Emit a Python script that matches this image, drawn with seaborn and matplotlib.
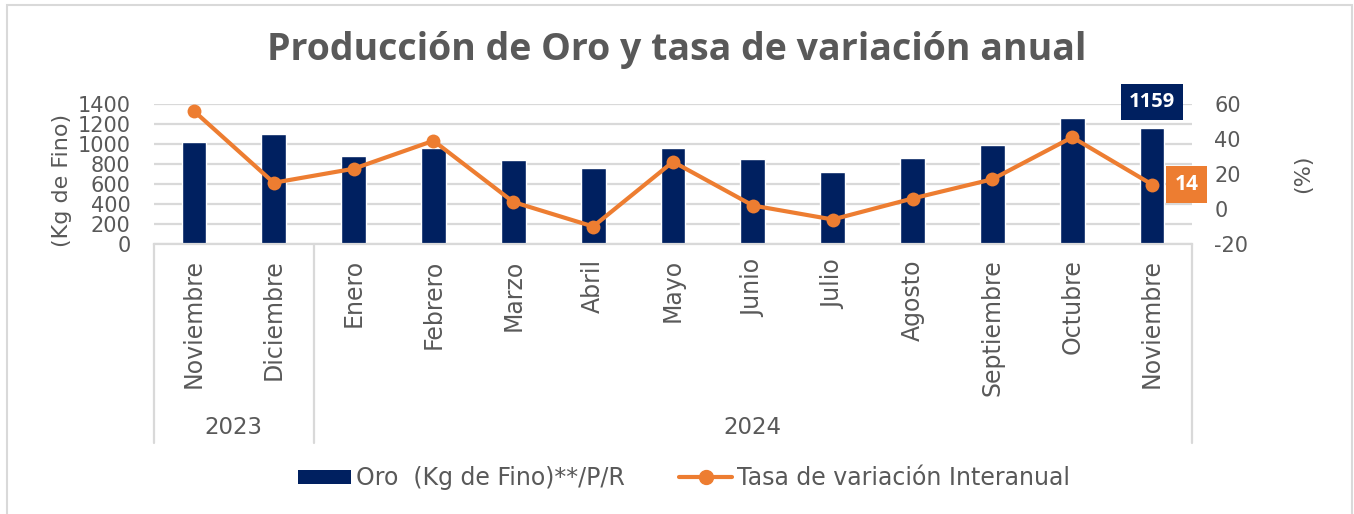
import numpy as np
import pandas as pd
import matplotlib
matplotlib.use('Agg')
import matplotlib.pyplot as plt
import matplotlib.transforms as mtransforms
from matplotlib.patches import Patch, Rectangle
from matplotlib.lines import Line2D
import seaborn as sns

# datos
meses = ['Noviembre', 'Diciembre', 'Enero', 'Febrero', 'Marzo', 'Abril', 'Mayo',
         'Junio', 'Julio', 'Agosto', 'Septiembre', 'Octubre', 'Noviembre']
anios = ['2023', '2024']
meses_por_anio = [2, 11]
oro = [1018, 1100, 885, 965, 840, 760, 962, 848, 722, 858, 990, 1258, 1159]
tasa = [56, 15, 23, 39, 4, -10, 27, 2, -6, 6, 17, 41, 14]

azul = '#002060'
naranja = '#ED7D31'
gris = '#595959'
gris_claro = '#D9D9D9'

sns.set_style('white')
plt.rcParams['font.family'] = ['DejaVu Sans']
plt.rcParams['axes.unicode_minus'] = False

df = pd.DataFrame({'idx': np.arange(len(meses)), 'oro': oro, 'tasa': tasa})

W, H = 1354, 514
fig = plt.figure(figsize=(W / 100, H / 100), dpi=100)
ax = fig.add_axes([154 / W, 1 - 244 / H, (1192 - 154) / W, 140 / H])

# barras
sns.barplot(data=df, x='idx', y='oro', ax=ax, color=azul, width=0.31,
            saturation=1, zorder=2)
ax.set_ylim(0, 1400)
ax.set_yticks(range(0, 1401, 200))
ax.grid(axis='y', color=gris_claro, linewidth=1.6, zorder=0)
ax.set_axisbelow(True)
for s in ['top', 'left', 'right']:
    ax.spines[s].set_visible(False)
ax.spines['bottom'].set_color(gris_claro)
ax.spines['bottom'].set_linewidth(1.6)
ax.set_xticks(range(len(meses)))
ax.set_xticklabels(meses, rotation=90, va='top', ha='center')
ax.tick_params(axis='x', length=0, pad=11, labelsize=17, labelcolor=gris)
ax.tick_params(axis='y', length=0, pad=17, labelsize=15, labelcolor=gris)
ax.set_xlabel('')
ax.set_ylabel('(Kg de Fino)', fontsize=16, color=gris)
ax.yaxis.set_label_coords(-0.079, 0.457)

# linea tasa
ax2 = ax.twinx()
sns.lineplot(data=df, x='idx', y='tasa', ax=ax2, color=naranja, linewidth=3,
             marker='o', markersize=10, markeredgewidth=0)
ax2.set_ylim(-20, 60)
ax2.set_yticks(range(-20, 61, 20))
for s in ax2.spines.values():
    s.set_visible(False)
ax2.tick_params(axis='y', length=0, pad=16, labelsize=15, labelcolor=gris)
ax2.set_ylabel('(%)', fontsize=16, color=gris)
ax2.yaxis.set_label_coords(1.097, 0.5)
ax2.set_xlabel('')
ax.set_xlim(-0.5, len(meses) - 0.5)

# etiquetas de datos
ax.annotate(str(oro[-1]), xy=(df['idx'].iloc[-1], oro[-1]), xytext=(0, 19),
            textcoords='offset points', ha='center', va='center',
            fontsize=14.5, fontweight='bold', color='white', family='Open Sans',
            bbox=dict(boxstyle='square,pad=0.4', fc=azul, ec='none'))
ax2.annotate(str(tasa[-1]), xy=(df['idx'].iloc[-1], tasa[-1]), xytext=(25, 0),
             textcoords='offset points', ha='center', va='center',
             fontsize=15, fontweight='bold', color='white', family='Open Sans',
             bbox=dict(boxstyle='square,pad=0.4', fc=naranja, ec='none'))

# eje de categorias en dos niveles
trans = mtransforms.blended_transform_factory(ax.transData, ax.transAxes)
bordes = np.concatenate([[0], np.cumsum(meses_por_anio)]) - 0.5
for b in bordes:
    ax.add_line(Line2D([b, b], [0, -1.42], transform=trans, color=gris_claro,
                       linewidth=1.6, clip_on=False))
for i, a in enumerate(anios):
    ax.text((bordes[i] + bordes[i + 1]) / 2, -1.314, a, transform=trans,
            ha='center', va='center', fontsize=16.5, color=gris)

# titulo
fig.text(0.5, 1 - 50 / H, 'Producción de Oro y tasa de variación anual',
         ha='center', va='center', fontsize=27, fontweight='bold',
         color=gris, family='Open Sans')

# leyenda
handles = [Patch(facecolor=azul, edgecolor='none'),
           Line2D([], [], color=naranja, linewidth=3, marker='o', markersize=10)]
fig.legend(handles, ['Oro  (Kg de Fino)**/P/R', 'Tasa de variación Interanual'],
           loc='center', bbox_to_anchor=(684 / W, 1 - 478 / H), ncol=2,
           frameon=False, fontsize=17, labelcolor=gris, handlelength=2.25,
           handleheight=0.55, handletextpad=0.2, columnspacing=2.3)

# marco
fig.add_artist(Rectangle((7 / W, -0.02), (1352 - 7) / W, 1.02 - 5 / H,
                         transform=fig.transFigure, fill=False,
                         edgecolor=gris_claro, linewidth=1.5))

fig.savefig('out.png', dpi=100)
